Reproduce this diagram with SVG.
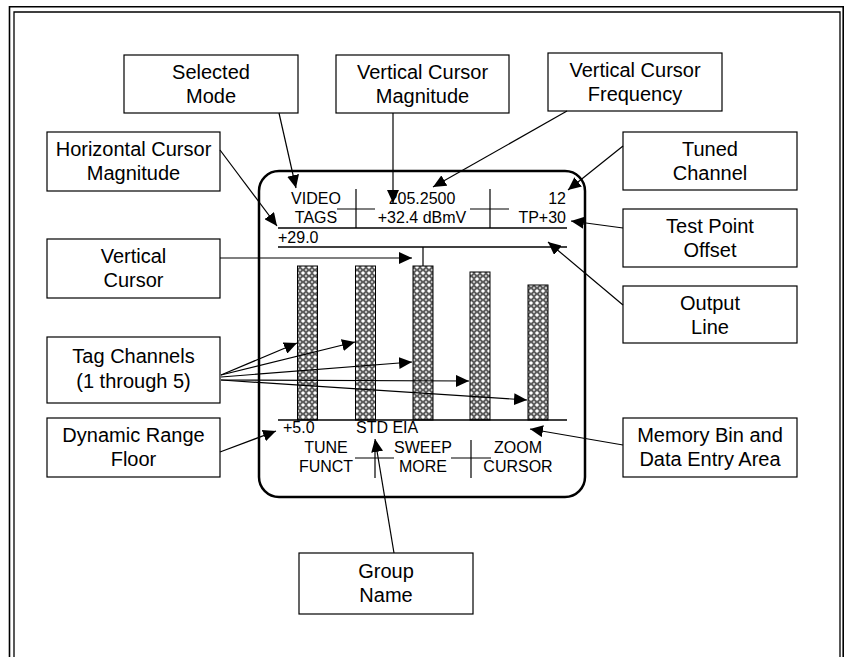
<svg xmlns="http://www.w3.org/2000/svg" width="849" height="657" viewBox="0 0 849 657">
  <style>
    .box { fill: #ffffff; stroke: #000000; stroke-width: 1.2; }
    .lbl { font-family: "Liberation Sans", Arial, sans-serif; font-size: 20px; fill: #000000; text-anchor: middle; }
    .scr { font-family: "Liberation Sans", Arial, sans-serif; font-size: 16px; fill: #000000; }
    .mid { text-anchor: middle; }
    .end { text-anchor: end; }
    .ln { stroke: #000000; stroke-width: 1.5; fill: none; }
    .tick { stroke: #000000; stroke-width: 1.2; fill: none; }
    .bar { fill: url(#hatch); stroke: #000000; stroke-width: 1; }
    .conn { stroke: #000000; stroke-width: 1.2; fill: none; marker-end: url(#arrow); }
  </style>
  <defs>
    <marker id="arrow" markerUnits="userSpaceOnUse" markerWidth="14" markerHeight="12" refX="13" refY="6" orient="auto">
      <path d="M0,0 L13,6 L0,12 Z" fill="#000000"/>
    </marker>
    <pattern id="hatch" patternUnits="userSpaceOnUse" width="6" height="6">
      <rect width="6" height="6" fill="#5c5c5c"/>
      <path d="M3,0.9 L5.1,3 L3,5.1 L0.9,3 Z" fill="#ffffff"/>
      <path d="M0,0 L1.2,0 L0,1.2 Z M6,0 L4.8,0 L6,1.2 Z M0,6 L1.2,6 L0,4.8 Z M6,6 L4.8,6 L6,4.8 Z" fill="#e6e6e6"/>
    </pattern>
  </defs>

  <rect width="849" height="657" fill="#ffffff"/>

  <!-- double page frame -->
  <path d="M9.5,657 V6.8 H843.2 V657" fill="none" stroke="#000" stroke-width="1.6"/>
  <path d="M14,657 V12 H840 V657" fill="none" stroke="#000" stroke-width="1.3"/>

  <!-- analyzer screen -->
  <g id="screen">
    <rect x="259" y="171" width="326" height="326" rx="20" ry="20" fill="none" stroke="#000" stroke-width="2.5"/>
    <text class="scr mid" x="316" y="204">VIDEO</text>
    <text class="scr mid" x="316" y="223">TAGS</text>
    <line class="tick" x1="356" y1="189" x2="356" y2="228"/>
    <line class="tick" x1="337" y1="209" x2="375" y2="209"/>
    <text class="scr mid" x="422" y="204">205.2500</text>
    <text class="scr mid" x="422" y="223">+32.4 dBmV</text>
    <line class="tick" x1="490" y1="189" x2="490" y2="228"/>
    <line class="tick" x1="470" y1="209" x2="509" y2="209"/>
    <text class="scr end" x="566" y="204">12</text>
    <text class="scr end" x="566" y="223">TP+30</text>
    <line class="ln" x1="278" y1="228" x2="567" y2="228"/>
    <text class="scr" x="278" y="243">+29.0</text>
    <line class="ln" x1="278" y1="247" x2="567" y2="247"/>
    <line class="tick" x1="423" y1="247" x2="423" y2="266"/>

    <rect class="bar" x="297.5" y="266" width="20" height="154"/>
    <rect class="bar" x="355.5" y="266" width="20" height="154"/>
    <rect class="bar" x="413" y="266" width="20" height="154"/>
    <rect class="bar" x="470" y="272" width="20" height="148"/>
    <rect class="bar" x="528" y="285" width="20" height="135"/>
    <line class="ln" x1="278" y1="420" x2="567" y2="420"/>

    <text class="scr" x="283" y="433">+5.0</text>
    <text class="scr" x="356" y="433">STD EIA</text>
    <text class="scr mid" x="326" y="453">TUNE</text>
    <text class="scr mid" x="326" y="472">FUNCT</text>
    <line class="tick" x1="375" y1="441" x2="375" y2="478"/>
    <line class="tick" x1="355" y1="458" x2="394" y2="458"/>
    <text class="scr mid" x="423" y="453">SWEEP</text>
    <text class="scr mid" x="423" y="472">MORE</text>
    <line class="tick" x1="471" y1="440" x2="471" y2="478"/>
    <line class="tick" x1="451" y1="458" x2="491" y2="458"/>
    <text class="scr mid" x="518" y="453">ZOOM</text>
    <text class="scr mid" x="518" y="472">CURSOR</text>
  </g>

  <!-- callout boxes -->
  <g id="selected-mode">
    <rect class="box" x="124" y="55" width="174" height="58"/>
    <text class="lbl" x="211" y="79">Selected</text>
    <text class="lbl" x="211" y="103">Mode</text>
  </g>
  <g id="vertical-cursor-magnitude">
    <rect class="box" x="336" y="55" width="173" height="58"/>
    <text class="lbl" x="422.5" y="79">Vertical Cursor</text>
    <text class="lbl" x="422.5" y="103">Magnitude</text>
  </g>
  <g id="vertical-cursor-frequency">
    <rect class="box" x="548" y="53" width="174" height="58"/>
    <text class="lbl" x="635" y="77">Vertical Cursor</text>
    <text class="lbl" x="635" y="101">Frequency</text>
  </g>
  <g id="horizontal-cursor-magnitude">
    <rect class="box" x="47" y="132" width="173" height="59"/>
    <text class="lbl" x="133.5" y="156">Horizontal Cursor</text>
    <text class="lbl" x="133.5" y="180">Magnitude</text>
  </g>
  <g id="tuned-channel">
    <rect class="box" x="623" y="132" width="174" height="58"/>
    <text class="lbl" x="710" y="156">Tuned</text>
    <text class="lbl" x="710" y="180">Channel</text>
  </g>
  <g id="vertical-cursor">
    <rect class="box" x="47" y="239" width="173" height="59"/>
    <text class="lbl" x="133.5" y="263">Vertical</text>
    <text class="lbl" x="133.5" y="287">Cursor</text>
  </g>
  <g id="test-point-offset">
    <rect class="box" x="623" y="209" width="174" height="58"/>
    <text class="lbl" x="710" y="233">Test Point</text>
    <text class="lbl" x="710" y="257">Offset</text>
  </g>
  <g id="output-line">
    <rect class="box" x="623" y="286" width="174" height="57"/>
    <text class="lbl" x="710" y="310">Output</text>
    <text class="lbl" x="710" y="334">Line</text>
  </g>
  <g id="tag-channels">
    <rect class="box" x="47" y="337" width="173" height="66"/>
    <text class="lbl" x="133.5" y="363">Tag Channels</text>
    <text class="lbl" x="133.5" y="388">(1 through 5)</text>
  </g>
  <g id="dynamic-range-floor">
    <rect class="box" x="47" y="418" width="173" height="59"/>
    <text class="lbl" x="133.5" y="442">Dynamic Range</text>
    <text class="lbl" x="133.5" y="466">Floor</text>
  </g>
  <g id="memory-bin">
    <rect class="box" x="623" y="418" width="174" height="59"/>
    <text class="lbl" x="710" y="442">Memory Bin and</text>
    <text class="lbl" x="710" y="466">Data Entry Area</text>
  </g>
  <g id="group-name">
    <rect class="box" x="299" y="553" width="174" height="61"/>
    <text class="lbl" x="386" y="578">Group</text>
    <text class="lbl" x="386" y="602">Name</text>
  </g>

  <!-- connectors -->
  <g id="connectors">
    <line class="conn" x1="279" y1="113" x2="296" y2="188"/>
    <line class="conn" x1="393" y1="113" x2="393" y2="203"/>
    <line class="conn" x1="567" y1="111" x2="433" y2="187"/>
    <line class="conn" x1="623" y1="146" x2="568" y2="190"/>
    <line class="conn" x1="623" y1="228" x2="571" y2="221"/>
    <line class="conn" x1="623" y1="305" x2="548" y2="242"/>
    <line class="conn" x1="220" y1="150" x2="277" y2="226"/>
    <line class="conn" x1="220" y1="258" x2="412" y2="258"/>
    <line class="conn" x1="221" y1="375" x2="297" y2="343"/>
    <line class="conn" x1="221" y1="375" x2="355" y2="342"/>
    <line class="conn" x1="221" y1="377" x2="412" y2="362"/>
    <line class="conn" x1="221" y1="380" x2="469" y2="381"/>
    <line class="conn" x1="221" y1="380" x2="527" y2="400"/>
    <line class="conn" x1="220" y1="452" x2="276" y2="431"/>
    <line class="conn" x1="623" y1="445" x2="530" y2="429"/>
    <line class="conn" x1="394" y1="553" x2="375" y2="439"/>
  </g>
</svg>
